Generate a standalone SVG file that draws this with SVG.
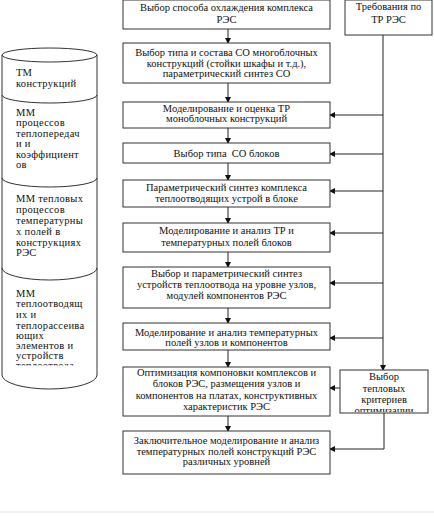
<svg xmlns="http://www.w3.org/2000/svg" width="434" height="527" viewBox="0 0 434 527">
<style>
.box{fill:#fff;stroke:#333;stroke-width:1}
.cyl{fill:none;stroke:#333;stroke-width:1}
.t{font-family:'Liberation Serif','Times New Roman','DejaVu Serif',serif;font-size:10.5px;fill:#111;text-anchor:middle}
.c{font-family:'Liberation Serif','Times New Roman','DejaVu Serif',serif;font-size:10.5px;fill:#111;letter-spacing:0.3px}
.ln{fill:none;stroke:#222;stroke-width:1}
</style>
<defs>
<marker id="ah" markerWidth="6" markerHeight="6" refX="5" refY="3" orient="auto" markerUnits="userSpaceOnUse">
<path d="M0,0 L6,3 L0,6 Z" fill="#111"/>
</marker>
<clipPath id="cl4"><rect x="0" y="361" width="100" height="4.5"/></clipPath>
<clipPath id="clr"><rect x="340" y="370" width="88" height="42"/></clipPath>
</defs>
<rect width="434" height="527" fill="#fff"/>
<g id="cylinder">
<ellipse class="cyl" cx="49.5" cy="55" rx="47.5" ry="7"/>
<path class="cyl" d="M2,55 L2,375 M97,55 L97,375"/>
<path class="cyl" d="M2,95 A47.5,8 0 0 0 97,95"/>
<path class="cyl" d="M2,178 A47.5,9 0 0 0 97,178"/>
<path class="cyl" d="M2,268 A47.5,12 0 0 0 97,268"/>
<path class="cyl" d="M2,375 A47.5,14 0 0 0 97,375"/>
<text class="c" x="16" y="76">ТМ</text>
<text class="c" x="16" y="87">конструкций</text>
<text class="c" x="16" y="116">ММ</text>
<text class="c" x="16" y="126">процессов</text>
<text class="c" x="16" y="137">теплопередач</text>
<text class="c" x="16" y="147">и и</text>
<text class="c" x="16" y="158">коэффициент</text>
<text class="c" x="16" y="168">ов</text>
<text class="c" x="16" y="202">ММ тепловых</text>
<text class="c" x="16" y="213">процессов</text>
<text class="c" x="16" y="224">температурны</text>
<text class="c" x="16" y="235">х полей в</text>
<text class="c" x="16" y="246">конструкциях</text>
<text class="c" x="16" y="256">РЭС</text>
<text class="c" x="16" y="297">ММ</text>
<text class="c" x="16" y="307">теплоотводящ</text>
<text class="c" x="16" y="318">их и</text>
<text class="c" x="16" y="329">теплорассеива</text>
<text class="c" x="16" y="339">ющих</text>
<text class="c" x="16" y="349">элементов и</text>
<text class="c" x="16" y="359">устройств</text>
<g clip-path="url(#cl4)">
<text class="c" x="16" y="369">теплоотвода</text>
</g>
</g>
<g id="connectors">
<path class="ln" d="M228,29 L228,43" marker-end="url(#ah)"/>
<path class="ln" d="M228,83 L228,102" marker-end="url(#ah)"/>
<path class="ln" d="M228,128 L228,143" marker-end="url(#ah)"/>
<path class="ln" d="M228,163 L228,180" marker-end="url(#ah)"/>
<path class="ln" d="M228,207 L228,223" marker-end="url(#ah)"/>
<path class="ln" d="M228,252 L228,267" marker-end="url(#ah)"/>
<path class="ln" d="M228,308 L228,323" marker-end="url(#ah)"/>
<path class="ln" d="M228,350 L228,367" marker-end="url(#ah)"/>
<path class="ln" d="M228,416 L228,431" marker-end="url(#ah)"/>
<path class="ln" d="M383,35 L383,370" marker-end="url(#ah)"/>
<path class="ln" d="M383,115 L330,115" marker-end="url(#ah)"/>
<path class="ln" d="M383,154 L330,154" marker-end="url(#ah)"/>
<path class="ln" d="M383,191 L330,191" marker-end="url(#ah)"/>
<path class="ln" d="M383,233 L330,233" marker-end="url(#ah)"/>
<path class="ln" d="M383,283 L330,283" marker-end="url(#ah)"/>
<path class="ln" d="M383,338 L330,338" marker-end="url(#ah)"/>
<path class="ln" d="M340,388 L330,388" marker-end="url(#ah)"/>
<path class="ln" d="M384,413 L384,449 L330,449" marker-end="url(#ah)"/>
</g>
<g id="n1"><rect class="box" x="123" y="0" width="207" height="29"/>
<text class="t" x="226.5" y="11">Выбор способа охлаждения комплекса</text>
<text class="t" x="226.5" y="23">РЭС</text></g>
<g id="n2"><rect class="box" x="123" y="43" width="207" height="40"/>
<text class="t" x="226.5" y="56">Выбор типа и состава СО многоблочных</text>
<text class="t" x="226.5" y="67">конструкций (стойки шкафы и т.д.),</text>
<text class="t" x="226.5" y="77">параметрический синтез СО</text></g>
<g id="n3"><rect class="box" x="123" y="102" width="207" height="26"/>
<text class="t" x="226.5" y="112">Моделирование и оценка ТР</text>
<text class="t" x="226.5" y="122">моноблочных конструкций</text></g>
<g id="n4"><rect class="box" x="123" y="143" width="207" height="20"/>
<text class="t" x="226.5" y="157" xml:space="preserve">Выбор типа  СО блоков</text></g>
<g id="n5"><rect class="box" x="123" y="180" width="207" height="27"/>
<text class="t" x="226.5" y="191">Параметрический синтез комплекса</text>
<text class="t" x="226.5" y="202">теплоотводящих устрой в блоке</text></g>
<g id="n6"><rect class="box" x="123" y="223" width="207" height="29"/>
<text class="t" x="226.5" y="234">Моделирование и анализ ТР и</text>
<text class="t" x="226.5" y="246">температурных полей блоков</text></g>
<g id="n7"><rect class="box" x="123" y="267" width="207" height="41"/>
<text class="t" x="226.5" y="277">Выбор и параметрический синтез</text>
<text class="t" x="226.5" y="288">устройств теплоотвода на уровне узлов,</text>
<text class="t" x="226.5" y="299">модулей компонентов РЭС</text></g>
<g id="n8"><rect class="box" x="123" y="323" width="207" height="27"/>
<text class="t" x="226.5" y="336">Моделирование и анализ температурных</text>
<text class="t" x="226.5" y="346">полей узлов и компонентов</text></g>
<g id="n9"><rect class="box" x="123" y="367" width="207" height="49"/>
<text class="t" x="226.5" y="376">Оптимизация компоновки комплексов и</text>
<text class="t" x="226.5" y="387">блоков РЭС, размещения узлов и</text>
<text class="t" x="226.5" y="399">компонентов на платах, конструктивных</text>
<text class="t" x="226.5" y="410">характеристик РЭС</text></g>
<g id="n10"><rect class="box" x="123" y="431" width="207" height="43"/>
<text class="t" x="226.5" y="444">Заключительное моделирование и анализ</text>
<text class="t" x="226.5" y="455">температурных полей конструкций РЭС</text>
<text class="t" x="226.5" y="465">различных уровней</text></g>
<g id="r1"><rect class="box" x="345" y="0" width="87" height="35"/>
<text class="t" x="388.5" y="10">Требования по</text>
<text class="t" x="388.5" y="23">ТР РЭС</text></g>
<g id="r2"><rect class="box" x="340" y="370" width="88" height="43"/>
<g clip-path="url(#clr)">
<text class="t" x="384" y="380">Выбор</text>
<text class="t" x="384" y="392">тепловых</text>
<text class="t" x="384" y="403">критериев</text>
<text class="t" x="384" y="414">оптимизации</text></g></g>
<path d="M0,512 L434,512" stroke="#e4e4e4" stroke-width="1"/>
</svg>
